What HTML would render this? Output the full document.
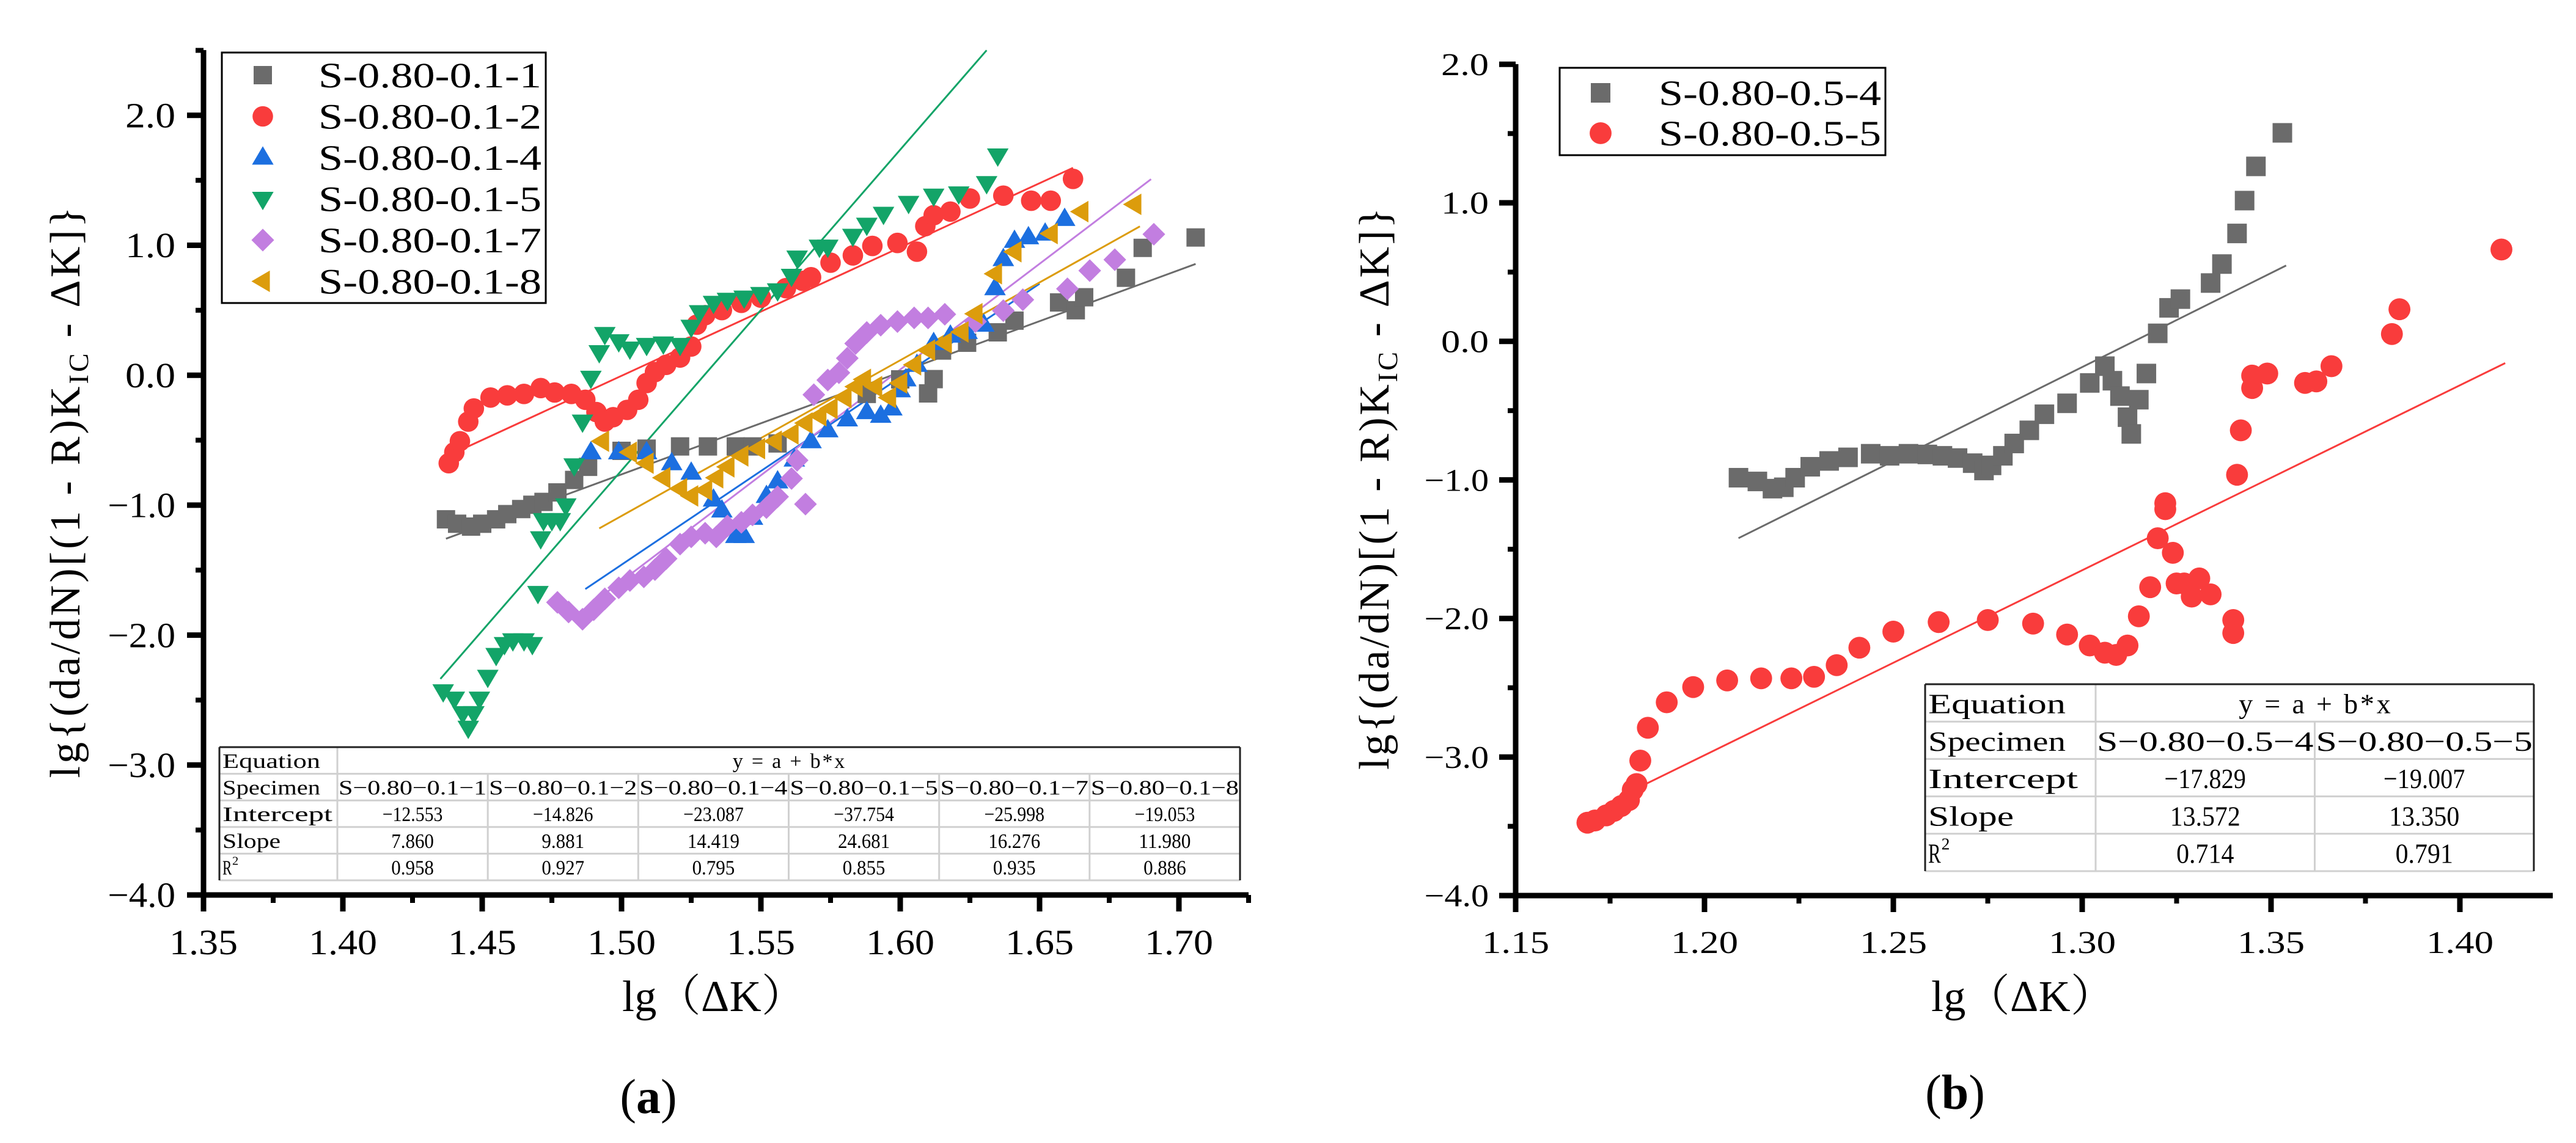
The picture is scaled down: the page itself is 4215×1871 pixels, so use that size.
<!DOCTYPE html>
<html><head><meta charset="utf-8">
<style>
html,body{margin:0;padding:0;background:#fff;}
svg{display:block;}
text{font-family:"Liberation Serif","Noto Serif CJK SC",serif;fill:#000;}
</style></head>
<body>
<svg id="fig" width="4215" height="1871" viewBox="0 0 4215 1871" xmlns="http://www.w3.org/2000/svg">
<rect width="4215" height="1871" fill="#fff"/>
<g id="chartA"></g>
<g id="chartB"></g>
</svg>
<script>
// ---------- Chart (a) data ----------
const a_names = ["S-0.80-0.1-1","S-0.80-0.1-2","S-0.80-0.1-4","S-0.80-0.1-5","S-0.80-0.1-7","S-0.80-0.1-8"];
const a_s1_x = [1.437,1.441,1.446,1.450,1.455,1.459,1.464,1.468,1.472,1.477,1.483,1.488,1.500,1.509,1.521,1.531,1.541,1.547,1.556,1.588,1.600,1.612,1.610,1.615,1.624,1.635,1.641,1.657,1.663,1.666,1.681,1.687,1.706];
const a_s1_y = [-1.109,-1.143,-1.165,-1.143,-1.109,-1.069,-1.030,-0.997,-0.975,-0.902,-0.806,-0.705,-0.582,-0.565,-0.548,-0.548,-0.548,-0.548,-0.525,-0.144,-0.032,-0.03,-0.14,0.19,0.25,0.33,0.42,0.56,0.50,0.60,0.75,0.98,1.06];
const a_s2_x = [1.438,1.440,1.442,1.445,1.447,1.453,1.459,1.465,1.471,1.476,1.482,1.487,1.491,1.494,1.497,1.502,1.506,1.509,1.512,1.516,1.521,1.525,1.527,1.530,1.536,1.543,1.550,1.559,1.565,1.568,1.575,1.583,1.590,1.599,1.606,1.609,1.612,1.618,1.625,1.637,1.647,1.654,1.662];
const a_s2_y = [-0.677,-0.593,-0.508,-0.357,-0.256,-0.172,-0.155,-0.144,-0.099,-0.133,-0.144,-0.189,-0.284,-0.357,-0.323,-0.267,-0.189,-0.060,0.024,0.080,0.136,0.221,0.389,0.462,0.501,0.557,0.597,0.670,0.726,0.754,0.866,0.922,0.995,1.018,0.951,1.147,1.231,1.259,1.360,1.382,1.343,1.343,1.511];
const a_s4_x = [1.489,1.499,1.509,1.518,1.525,1.533,1.536,1.541,1.544,1.547,1.552,1.556,1.562,1.568,1.574,1.581,1.588,1.593,1.597,1.600,1.602,1.606,1.612,1.618,1.624,1.630,1.634,1.637,1.641,1.646,1.652,1.659];
const a_s4_y = [-0.593,-0.593,-0.593,-0.677,-0.750,-0.957,-1.041,-1.237,-1.237,-1.097,-0.929,-0.817,-0.649,-0.508,-0.424,-0.340,-0.284,-0.312,-0.256,-0.116,-0.032,0.080,0.248,0.305,0.333,0.389,0.670,0.894,1.034,1.062,1.090,1.203];
const a_s5_x = [1.436,1.440,1.443,1.445,1.447,1.449,1.452,1.455,1.458,1.461,1.465,1.468,1.470,1.471,1.472,1.475,1.478,1.480,1.483,1.486,1.489,1.492,1.494,1.499,1.503,1.509,1.515,1.521,1.525,1.528,1.533,1.538,1.544,1.550,1.556,1.561,1.563,1.571,1.574,1.583,1.588,1.594,1.603,1.612,1.621,1.631,1.635];
const a_s5_y = [-2.433,-2.489,-2.601,-2.713,-2.601,-2.489,-2.321,-2.153,-2.069,-2.040,-2.040,-2.069,-1.676,-1.255,-1.115,-1.115,-1.115,-1.002,-0.694,-0.357,-0.020,0.177,0.317,0.261,0.205,0.233,0.244,0.233,0.373,0.485,0.557,0.580,0.597,0.625,0.653,0.765,0.905,0.989,0.989,1.073,1.158,1.242,1.326,1.382,1.399,1.478,1.691];
const a_s7_x = [1.477,1.481,1.486,1.490,1.494,1.499,1.503,1.508,1.512,1.516,1.521,1.525,1.530,1.534,1.538,1.543,1.547,1.552,1.556,1.561,1.563,1.566,1.569,1.574,1.578,1.581,1.584,1.588,1.593,1.599,1.605,1.610,1.616,1.627,1.637,1.644,1.660,1.668,1.677,1.691];
const a_s7_y = [-1.748,-1.822,-1.878,-1.805,-1.721,-1.636,-1.580,-1.552,-1.496,-1.412,-1.300,-1.244,-1.216,-1.244,-1.160,-1.132,-1.075,-1.019,-0.935,-0.795,-0.655,-0.992,-0.150,-0.037,0.019,0.131,0.244,0.329,0.385,0.413,0.441,0.441,0.469,0.413,0.497,0.581,0.665,0.805,0.889,1.085];
const a_s8_x = [1.493,1.503,1.509,1.515,1.521,1.525,1.530,1.534,1.538,1.543,1.549,1.555,1.561,1.566,1.571,1.575,1.580,1.584,1.587,1.591,1.596,1.600,1.605,1.610,1.616,1.622,1.627,1.634,1.641,1.654,1.665,1.684];
const a_s8_y = [-0.508,-0.593,-0.677,-0.789,-0.873,-0.929,-0.885,-0.789,-0.705,-0.621,-0.565,-0.508,-0.452,-0.368,-0.312,-0.256,-0.172,-0.088,-0.032,-0.088,-0.172,-0.060,0.080,0.193,0.249,0.333,0.473,0.781,0.950,1.090,1.259,1.315];
const a_intercepts = [-12.553,-14.826,-23.087,-37.754,-25.998,-19.053];
const a_slopes = [7.860,9.881,14.419,24.681,16.276,11.980];
const a_r2 = ["0.958","0.927","0.795","0.855","0.935","0.886"];
const a_fitStart = [1.437,1.440,1.487,1.435,1.485,1.492];
const a_fitEnd = [1.706,1.662,1.650,1.631,1.690,1.686];
const a_xticks = [1.35,1.40,1.45,1.50,1.55,1.60,1.65,1.70];
const a_yticks = [-4,-3,-2,-1,0,1,2];
// ---------- Chart (b) data ----------
const b_names = ["S-0.80-0.5-4","S-0.80-0.5-5"];
const b_s4_x = [1.209,1.214,1.218,1.221,1.224,1.228,1.233,1.238,1.244,1.249,1.254,1.259,1.263,1.267,1.271,1.274,1.276,1.279,1.282,1.286,1.290,1.296,1.302,1.306,1.308,1.310,1.312,1.313,1.315,1.317,1.320,1.323,1.326,1.334,1.337,1.341,1.343,1.346,1.353];
const b_s4_y = [-0.984,-1.011,-1.063,-1.053,-0.984,-0.905,-0.863,-0.837,-0.811,-0.826,-0.811,-0.816,-0.826,-0.842,-0.879,-0.932,-0.895,-0.826,-0.737,-0.642,-0.526,-0.447,-0.300,-0.179,-0.284,-0.395,-0.547,-0.668,-0.421,-0.232,0.058,0.242,0.305,0.421,0.558,0.779,1.016,1.263,1.505];
const b_s5_x = [1.169,1.171,1.174,1.176,1.178,1.180,1.181,1.182,1.183,1.185,1.190,1.197,1.206,1.215,1.223,1.229,1.235,1.241,1.250,1.262,1.275,1.287,1.296,1.302,1.306,1.309,1.312,1.315,1.318,1.320,1.322,1.322,1.324,1.325,1.327,1.329,1.331,1.334,1.340,1.340,1.341,1.342,1.345,1.345,1.349,1.359,1.362,1.366,1.382,1.384,1.411];
const b_s5_y = [-3.474,-3.458,-3.421,-3.389,-3.353,-3.311,-3.237,-3.195,-3.026,-2.789,-2.605,-2.495,-2.447,-2.432,-2.432,-2.421,-2.337,-2.211,-2.095,-2.026,-2.011,-2.037,-2.116,-2.195,-2.247,-2.263,-2.195,-1.984,-1.774,-1.421,-1.211,-1.168,-1.526,-1.747,-1.747,-1.842,-1.711,-1.826,-2.011,-2.105,-0.963,-0.642,-0.247,-0.337,-0.232,-0.300,-0.289,-0.179,0.053,0.232,0.663];
const b_intercepts = [-17.829,-19.007];
const b_slopes = [13.572,13.350];
const b_r2 = ["0.714","0.791"];
const b_fitStart = [1.209,1.181];
const b_fitEnd = [1.354,1.412];
const b_xticks = [1.15,1.20,1.25,1.30,1.35,1.40];
const b_yticks = [-4,-3,-2,-1,0,1,2];

const NS = "http://www.w3.org/2000/svg";
function mk(parent, tag, attrs, txt){
  const e = document.createElementNS(NS, tag);
  for (const k in attrs) e.setAttribute(k, attrs[k]);
  if (txt !== undefined) e.textContent = txt;
  parent.appendChild(e);
  return e;
}
function marker(g, shape, cx, cy, s, color){
  let el;
  if (shape === "square") el = mk(g,"rect",{x:cx-s/2,y:cy-s/2,width:s,height:s,fill:color});
  else if (shape === "circle") el = mk(g,"circle",{cx:cx,cy:cy,r:s*0.56,fill:color});
  else {
    const r = s*0.62; let pts;
    if (shape === "up") pts = [[cx,cy-r],[cx+r*0.95,cy+r*0.62],[cx-r*0.95,cy+r*0.62]];
    else if (shape === "down") pts = [[cx,cy+r],[cx+r*0.95,cy-r*0.62],[cx-r*0.95,cy-r*0.62]];
    else if (shape === "diamond") pts = [[cx,cy-r],[cx+r,cy],[cx,cy+r],[cx-r,cy]];
    else pts = [[cx-r,cy],[cx+r*0.62,cy-r*0.95],[cx+r*0.62,cy+r*0.95]];
    el = mk(g,"polygon",{points:pts.map(p=>p.join(",")).join(" "),fill:color});
  }
  return el;
}

function drawChart(root, cfg){
  const X = v => cfg.x0 + (v - cfg.xmin) * cfg.xs;
  const Y = v => cfg.y0 - (v - cfg.ymin) * cfg.ys;
  // fit lines
  cfg.series.forEach((s,i)=>{
    const l = mk(root,"line",{x1:X(cfg.fitStart[i]),y1:Y(cfg.intercepts[i]+cfg.slopes[i]*cfg.fitStart[i]),x2:X(cfg.fitEnd[i]),y2:Y(cfg.intercepts[i]+cfg.slopes[i]*cfg.fitEnd[i]),stroke:s.color,"stroke-width":3});
    
    
  });
  // clip region for chart a top
  cfg.series.forEach((s,i)=>{
    const g = mk(root,"g",{});
    
    
    s.x.forEach((xv,j)=>{
      const m = marker(g, s.shape, X(xv), Y(s.y[j]), cfg.ms, s.color);
      
      
    });
  });
  // axes
  const ax = mk(root,"g",{});
  
  
  mk(ax,"line",{x1:cfg.x0,y1:cfg.y0+4.5,x2:cfg.x0,y2:cfg.ytop,stroke:"#000","stroke-width":9});
  mk(ax,"line",{x1:cfg.x0-4.5,y1:cfg.y0,x2:cfg.xend,y2:cfg.y0,stroke:"#000","stroke-width":9});
  cfg.xticks.forEach((t,i)=>{
    mk(ax,"line",{x1:X(t),y1:cfg.y0,x2:X(t),y2:cfg.y0+27,stroke:"#000","stroke-width":9});
    const mt = t + 0.025;
    if (X(mt) <= cfg.xend+2) mk(ax,"line",{x1:X(mt),y1:cfg.y0,x2:X(mt),y2:cfg.y0+13,stroke:"#000","stroke-width":8});
    const tx = mk(ax,"text",{x:X(t),y:cfg.xlabY,"font-size":cfg.tfs,"text-anchor":"middle",textLength:cfg.xtl,lengthAdjust:"spacingAndGlyphs"}, t.toFixed(2));
    
    
  });
  cfg.yticks.forEach((t,i)=>{
    mk(ax,"line",{x1:cfg.x0,y1:Y(t),x2:cfg.x0-27,y2:Y(t),stroke:"#000","stroke-width":9});
    const mt = t + 0.5;
    if (Y(mt) >= cfg.ytop-2) mk(ax,"line",{x1:cfg.x0,y1:Y(mt),x2:cfg.x0-13,y2:Y(mt),stroke:"#000","stroke-width":8});
    const lbl = t.toFixed(1).replace("-","\u2212");
    const tx = mk(ax,"text",{x:cfg.ylabR,y:Y(t)+cfg.tfs*0.34,"font-size":cfg.tfs,"text-anchor":"end",textLength:(t<0?cfg.ytl*1.35:cfg.ytl),lengthAdjust:"spacingAndGlyphs"}, lbl);
    
    
  });
  // axis titles
  const xt = mk(root,"text",{x:cfg.xtitleX,y:cfg.xtitleY,"font-size":72,"text-anchor":"middle",textLength:300,lengthAdjust:"spacing"},"lg\uFF08\u0394K\uFF09");
  
  
  const yt = mk(root,"text",{transform:`translate(${cfg.ytitleX},${cfg.ytitleC}) rotate(-90)`,"font-size":70,"text-anchor":"middle",textLength:cfg.ytitleLen,lengthAdjust:"spacing"});
  
  
  mk(yt,"tspan",{},"lg{(da/dN)[(1 - R)K");
  mk(yt,"tspan",{"font-size":46,dy:14},"IC");
  mk(yt,"tspan",{dy:-14}," - \u0394K]}");
  // legend
  const lg = mk(root,"g",{});
  
  
  mk(lg,"rect",{x:cfg.leg.x,y:cfg.leg.y,width:cfg.leg.w,height:cfg.leg.h,fill:"#fff",stroke:"#000","stroke-width":3});
  cfg.series.forEach((s,i)=>{
    const cy = cfg.leg.y0 + i*cfg.leg.dy;
    const e = mk(lg,"g",{});
    
    
    marker(e, s.shape, cfg.leg.mx, cy, cfg.ms, s.color);
    mk(e,"text",{x:cfg.leg.tx,y:cy+20,"font-size":58,textLength:cfg.leg.tw,lengthAdjust:"spacingAndGlyphs"},cfg.names[i]);
  });
  // table
  const T = cfg.table;
  const tg = mk(root,"g",{});
  
  
  mk(tg,"rect",{x:T.x,y:T.y,width:T.w,height:T.h,fill:"#fff",stroke:"none"});
  const rh = T.h/5, n = cfg.names.length, cw = (T.x+T.w-T.c1)/n;
  for (let r=1;r<=5;r++) mk(tg,"line",{x1:T.x,y1:T.y+r*rh,x2:T.x+T.w,y2:T.y+r*rh,stroke:"#d0d0d0","stroke-width":3});
  mk(tg,"line",{x1:T.c1,y1:T.y,x2:T.c1,y2:T.y+T.h,stroke:"#d0d0d0","stroke-width":3});
  for (let c=1;c<n;c++) mk(tg,"line",{x1:T.c1+c*cw,y1:T.y+rh,x2:T.c1+c*cw,y2:T.y+T.h,stroke:"#d0d0d0","stroke-width":3});
  mk(tg,"line",{x1:T.x,y1:T.y,x2:T.x+T.w,y2:T.y,stroke:"#222","stroke-width":3});
  mk(tg,"line",{x1:T.x,y1:T.y,x2:T.x,y2:T.y+T.h,stroke:"#222","stroke-width":3});
  mk(tg,"line",{x1:T.x+T.w,y1:T.y,x2:T.x+T.w,y2:T.y+T.h,stroke:"#222","stroke-width":3});
  const heads = ["Equation","Specimen","Intercept","Slope","R"];
  heads.forEach((h,r)=>{
    const t = mk(tg,"text",{x:T.x+5,y:T.y+r*rh+rh*0.78,"font-size":T.fs,textLength:(r===4?T.fs*0.45:T.hw[r]),lengthAdjust:"spacingAndGlyphs"},h);
    if (r===4) mk(tg,"text",{x:T.x+5+T.fs*0.47,y:T.y+r*rh+rh*0.42,"font-size":T.fs*0.6},"2");
  });
  mk(tg,"text",{x:(T.c1+T.x+T.w)/2,y:T.y+rh*0.78,"font-size":T.fs,"text-anchor":"middle",textLength:T.fs*5.4,lengthAdjust:"spacing"},"y = a + b*x");
  for (let c=0;c<n;c++){
    const cx = T.c1 + c*cw + cw/2;
    mk(tg,"text",{x:cx,y:T.y+rh+rh*0.78,"font-size":T.fs,"text-anchor":"middle",textLength:cw-4,lengthAdjust:"spacingAndGlyphs"},cfg.names[c].replace(/-/g,"\u2212"));
    mk(tg,"text",{x:cx,y:T.y+2*rh+rh*0.78,"font-size":T.fs,"text-anchor":"middle",textLength:T.fs*2.9,lengthAdjust:"spacingAndGlyphs"},cfg.intercepts[c].toFixed(3).replace("-","\u2212"));
    mk(tg,"text",{x:cx,y:T.y+3*rh+rh*0.78,"font-size":T.fs,"text-anchor":"middle",textLength:(Math.abs(cfg.slopes[c])>=10?T.fs*2.5:T.fs*2.05),lengthAdjust:"spacingAndGlyphs"},cfg.slopes[c].toFixed(3));
    mk(tg,"text",{x:cx,y:T.y+4*rh+rh*0.78,"font-size":T.fs,"text-anchor":"middle",textLength:T.fs*2.05,lengthAdjust:"spacingAndGlyphs"},cfg.r2[c]);
  }
  // panel label
  const pl = mk(root,"text",{x:cfg.panelX,y:cfg.panelY,"font-size":80,"text-anchor":"middle","font-weight":"bold"});
  
  
  mk(pl,"tspan",{"font-weight":"normal"},"(");
  mk(pl,"tspan",{},cfg.panelTxt);
  mk(pl,"tspan",{"font-weight":"normal"},")");
}

drawChart(document.getElementById("chartA"), {
  x0:333, y0:1465, xmin:1.35, ymin:-4, xs:4560, ys:212.7, ytop:82, xend:2043,
  xticks:a_xticks, yticks:a_yticks, tfs:58, xtl:112, ytl:82, xlabY:1562, ylabR:287, ms:30,
  names:a_names, intercepts:a_intercepts, slopes:a_slopes, r2:a_r2, fitStart:a_fitStart, fitEnd:a_fitEnd,
  series:[
    {x:a_s1_x,y:a_s1_y,color:"#6b6b6b",shape:"square"},
    {x:a_s2_x,y:a_s2_y,color:"#f93c3c",shape:"circle"},
    {x:a_s4_x,y:a_s4_y,color:"#1c6fe0",shape:"up"},
    {x:a_s5_x,y:a_s5_y,color:"#13a468",shape:"down"},
    {x:a_s7_x,y:a_s7_y,color:"#c27ee0",shape:"diamond"},
    {x:a_s8_x,y:a_s8_y,color:"#dc9c0c",shape:"left"}
  ],
  xtitleX:1168, xtitleY:1655, ytitleX:130, ytitleC:806, ytitleLen:935,
  leg:{x:363,y:86,w:530,h:410,y0:123,dy:67.5,mx:430,tx:521,tw:365},
  table:{x:359,y:1223,w:1670,h:218,c1:552,fs:34,hw:[160,160,180,95]},
  panelX:1061, panelY:1822, panelTxt:"a"
});
drawChart(document.getElementById("chartB"), {
  x0:2480, y0:1466, xmin:1.15, ymin:-4, xs:6180, ys:226.8, ytop:105, xend:4177,
  xticks:b_xticks, yticks:b_yticks, tfs:52, xtl:110, ytl:78, xlabY:1560, ylabR:2436, ms:32,
  names:b_names, intercepts:b_intercepts, slopes:b_slopes, r2:b_r2, fitStart:b_fitStart, fitEnd:b_fitEnd,
  series:[
    {x:b_s4_x,y:b_s4_y,color:"#6b6b6b",shape:"square"},
    {x:b_s5_x,y:b_s5_y,color:"#f93c3c",shape:"circle"}
  ],
  xtitleX:3310, xtitleY:1655, ytitleX:2272, ytitleC:800, ytitleLen:920,
  leg:{x:2552,y:111,w:533,h:143,y0:152,dy:66,mx:2619,tx:2714,tw:364},
  table:{x:3150,y:1120,w:996,h:306,c1:3429,fs:46,hw:[225,225,245,140]},
  panelX:3199, panelY:1815, panelTxt:"b"
});
</script>
</body></html>
